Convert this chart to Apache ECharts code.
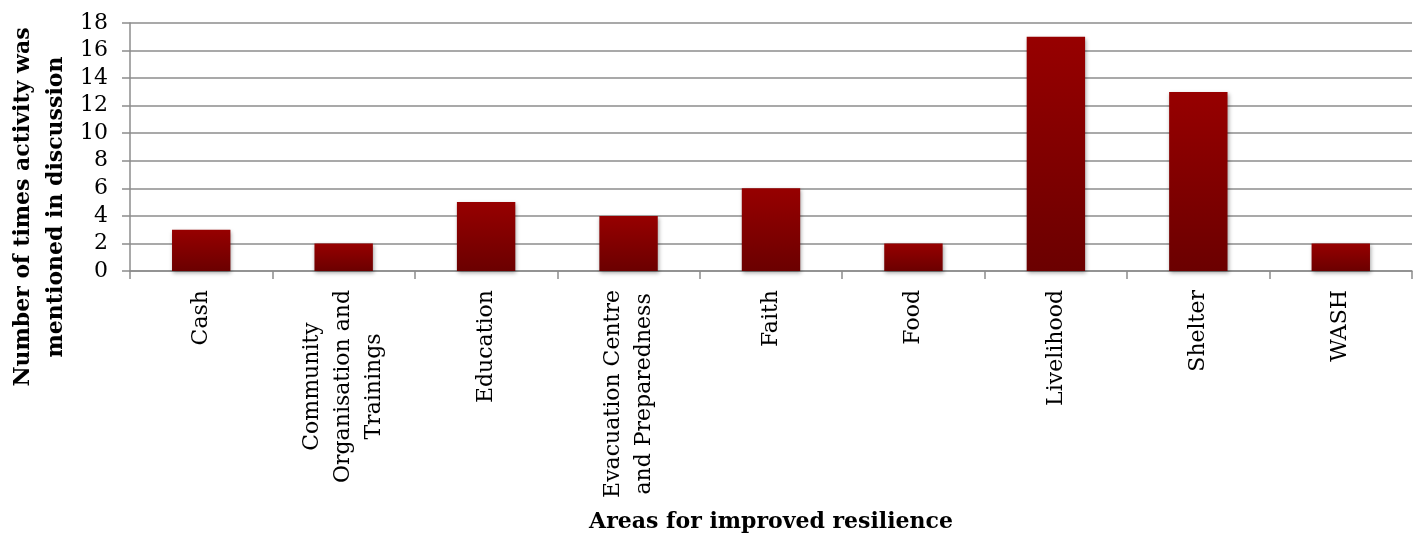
<!DOCTYPE html>
<html>
<head>
<meta charset="utf-8">
<script src="https://cdn.jsdelivr.net/npm/echarts@6/dist/echarts.min.js"></script>
<style>html,body{margin:0;padding:0;background:#fff}#c{width:1418px;height:535px}</style>
</head>
<body>
<div id="c"></div>
<script>
const categories = ['Cash', 'Community\nOrganisation and\nTrainings', 'Education', 'Evacuation Centre\nand Preparedness', 'Faith', 'Food', 'Livelihood', 'Shelter', 'WASH'];
const counts = [3, 2, 5, 4, 6, 2, 17, 13, 2];
const yTicks = { min: 0, max: 18, interval: 2 };
const xTitle = 'Areas for improved resilience';
const yTitle = 'Number of times activity was\nmentioned in discussion';

const FONT = 'DejaVu Serif';
const chart = echarts.init(document.getElementById('c'));
chart.setOption({
  animation: false,
  grid: { left: 130, right: 6, top: 23, bottom: 264, containLabel: false },
  xAxis: {
    type: 'category',
    data: categories,
    name: xTitle,
    nameLocation: 'middle',
    nameGap: 240,
    nameTextStyle: { fontFamily: FONT, fontWeight: 'bold', fontSize: 22, color: '#000' },
    axisLine: { lineStyle: { color: '#8c8c8c', width: 1.5 } },
    axisTick: { show: true, length: 8, alignWithLabel: false, lineStyle: { color: '#8c8c8c', width: 1.5 } },
    axisLabel: {
      rotate: 90, margin: 19, interval: 0,
      fontFamily: FONT, fontSize: 22, color: '#000', lineHeight: 31,
      formatter: v => v.split('\n').map(l => '{c|' + l + '}').join('\n'),
      rich: { c: { align: 'center', fontFamily: FONT, fontSize: 22, color: '#000', lineHeight: 31 } }
    }
  },
  yAxis: {
    type: 'value',
    min: yTicks.min, max: yTicks.max, interval: yTicks.interval,
    axisLine: { show: true, lineStyle: { color: '#8c8c8c', width: 1.5 } },
    axisTick: { show: true, length: 8, lineStyle: { color: '#8c8c8c', width: 1.5 } },
    splitLine: { lineStyle: { color: '#8c8c8c', width: 1.5 } },
    axisLabel: { margin: 22, fontFamily: FONT, fontSize: 22, color: '#000' }
  },
  graphic: [{
    type: 'text',
    x: 40, y: 207,
    rotation: Math.PI / 2,
    style: {
      text: yTitle,
      fontFamily: FONT, fontWeight: 'bold', fontSize: 22, fill: '#000',
      align: 'center', verticalAlign: 'middle', lineHeight: 33
    }
  }],
  series: [{
    type: 'bar',
    data: counts,
    barWidth: '41%',
    itemStyle: {
      color: new echarts.graphic.LinearGradient(0, 0, 0, 1, [
        { offset: 0, color: '#970000' },
        { offset: 1, color: '#6b0000' }
      ]),
      shadowColor: 'rgba(0,0,0,0.35)', shadowBlur: 4, shadowOffsetX: 1, shadowOffsetY: 2
    }
  }]
});
</script>
</body>
</html>
